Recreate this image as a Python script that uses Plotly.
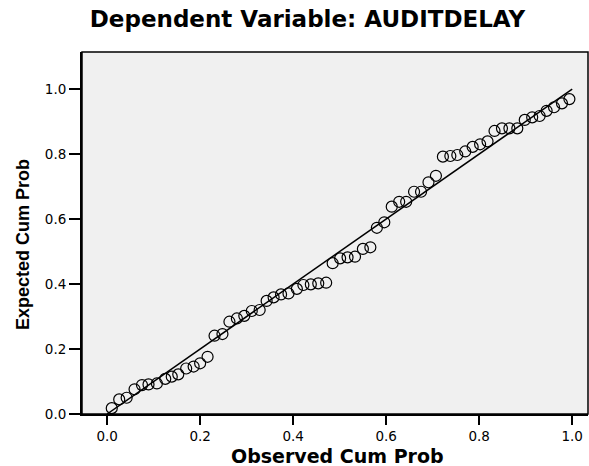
import plotly.graph_objects as go

observed_cum_prob = [
    0.010, 0.026, 0.042, 0.059, 0.075, 0.089, 0.107, 0.125, 0.139, 0.153,
    0.170, 0.186, 0.200, 0.216, 0.231, 0.248, 0.263, 0.279, 0.295, 0.311,
    0.328, 0.343, 0.358, 0.374, 0.390, 0.408, 0.422, 0.438, 0.454, 0.471,
    0.485, 0.501, 0.517, 0.533, 0.550, 0.566, 0.580, 0.596, 0.612, 0.628,
    0.643, 0.660, 0.675, 0.691, 0.707, 0.722, 0.738, 0.753, 0.770, 0.786,
    0.802, 0.818, 0.833, 0.849, 0.865, 0.882, 0.898, 0.914, 0.930, 0.945,
    0.961, 0.978, 0.994,
]
expected_cum_prob = [
    0.018, 0.045, 0.050, 0.076, 0.089, 0.091, 0.094, 0.108, 0.115, 0.122,
    0.140, 0.146, 0.156, 0.176, 0.241, 0.246, 0.284, 0.294, 0.302, 0.317,
    0.320, 0.348, 0.359, 0.368, 0.371, 0.385, 0.397, 0.399, 0.402, 0.404,
    0.464, 0.479, 0.482, 0.484, 0.508, 0.513, 0.573, 0.590, 0.638, 0.653,
    0.653, 0.684, 0.684, 0.713, 0.733, 0.792, 0.794, 0.797, 0.808, 0.822,
    0.830, 0.839, 0.871, 0.879, 0.879, 0.879, 0.905, 0.913, 0.917, 0.933,
    0.944, 0.956, 0.969,
]
ref_line_x = [0.0, 1.0]
ref_line_y = [0.0, 1.0]
tick_vals = [0.0, 0.2, 0.4, 0.6, 0.8, 1.0]
tick_text = ["0.0", "0.2", "0.4", "0.6", "0.8", "1.0"]

title_text = "Dependent Variable: AUDITDELAY"
x_title = "Observed Cum Prob"
y_title = "Expected Cum Prob"

fig = go.Figure()
fig.add_trace(go.Scatter(
    x=ref_line_x, y=ref_line_y, mode="lines",
    line=dict(color="black", width=1.5), showlegend=False, hoverinfo="skip",
))
fig.add_trace(go.Scatter(
    x=observed_cum_prob, y=expected_cum_prob, mode="markers",
    marker=dict(symbol="circle-open", size=11, color="black", line=dict(width=1.2, color="black")),
    showlegend=False,
))

axis_common = dict(
    tickvals=tick_vals, ticktext=tick_text, ticks="outside", tickwidth=2,
    tickcolor="black", showgrid=False, zeroline=False, showline=True, linecolor="black",
    linewidth=2, mirror=False, automargin=False,
    tickfont=dict(family="DejaVu Sans", size=13.5, color="black"),
)

fig.update_layout(
    width=589, height=466,
    margin=dict(l=82, r=1, t=52, b=52, autoexpand=False),
    paper_bgcolor="white", plot_bgcolor="#f0f0f0",
    title=dict(text="<b>" + title_text + "</b>", x=0.522, xanchor="center",
               y=1 - 19 / 466, yanchor="middle", yref="container",
               font=dict(family="DejaVu Sans", size=23, color="black")),
    xaxis=dict(range=[-0.054, 1.034], ticklen=9, **axis_common),
    yaxis=dict(range=[0.0, 1.114], ticklen=11, **axis_common),
    shapes=[dict(type="rect", xref="paper", yref="paper", x0=0, y0=0, x1=1, y1=1,
                 line=dict(color="black", width=1.5), fillcolor="rgba(0,0,0,0)", layer="above")],
    annotations=[
        dict(text="<b>" + x_title + "</b>", xref="paper", yref="paper", x=0.505, y=-42 / 362,
             xanchor="center", yanchor="middle", showarrow=False,
             font=dict(family="DejaVu Sans", size=19, color="black")),
        dict(text="<b>" + y_title + "</b>", xref="paper", yref="paper", x=-59 / 506, y=169 / 362,
             xanchor="center", yanchor="middle", showarrow=False, textangle=-90,
             font=dict(family="Liberation Sans", size=18, color="black")),
    ],
)

fig.write_html(
    "out.html",
    config={"displayModeBar": False},
    post_script="document.body.style.margin='0px';document.body.style.overflow='hidden';",
)
